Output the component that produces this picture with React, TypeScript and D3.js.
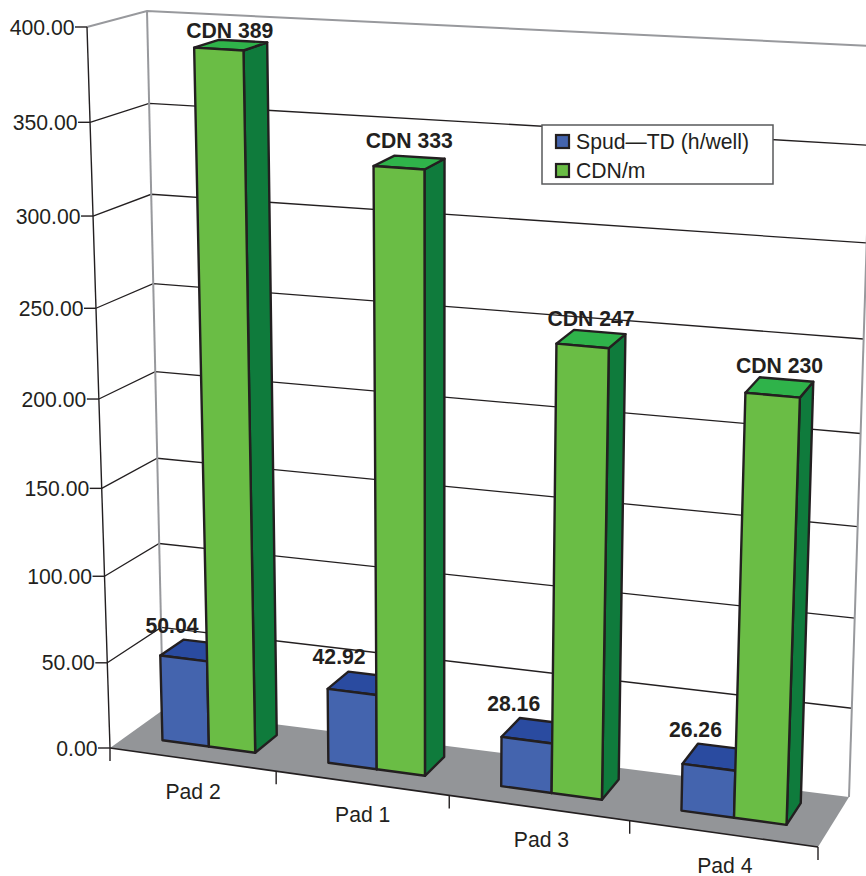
import React from "react";
import * as d3 from "d3";

// Chart data
const pads = ["Pad 2", "Pad 1", "Pad 3", "Pad 4"];
const spudHours = [50.04, 42.92, 28.16, 26.26];
const cdnPerMetre = [389, 333, 247, 230];
const seriesNames = ["Spud—TD (h/well)", "CDN/m"];
const valueTicks = [0, 50, 100, 150, 200, 250, 300, 350, 400];

type Pt = [number, number];

// Screen corners of the 3D chart box: f/b = front/back, l/r = left/right, 0/1 = floor/ceiling.
const box = {
  fl0: [110, 748] as Pt,
  fr0: [818, 847] as Pt,
  bl0: [163, 710] as Pt,
  br0: [849, 797] as Pt,
  fl1: [87, 27] as Pt,
  fr1: [846, 72] as Pt,
  bl1: [147, 11] as Pt,
  br1: [873, 46] as Pt,
};
const perspectiveAcross = -0.08;
const perspectiveUp = -0.062;

const warp = (t: number, k: number) => (t * (1 + k)) / (1 + k * t);
const mix = (a: Pt, b: Pt, t: number): Pt => [a[0] + (b[0] - a[0]) * t, a[1] + (b[1] - a[1]) * t];

const valueScale = d3.scaleLinear().domain([0, 400]).range([0, 1]);
const padScale = d3.scaleBand<string>().domain(pads).range([0, 1]);

// Projects (across, depth, value fraction) into the drawing.
function project(u: number, v: number, w: number): Pt {
  const a = warp(u, perspectiveAcross);
  const h = warp(w, perspectiveUp);
  const floor = mix(mix(box.fl0, box.fr0, a), mix(box.bl0, box.br0, a), v);
  const ceil = mix(mix(box.fl1, box.fr1, a), mix(box.bl1, box.br1, a), v);
  return mix(floor, ceil, h);
}

const path = d3.line<Pt>().curve(d3.curveLinearClosed);
const seg = d3.line<Pt>();

const INK = "#231f20";
const WALL = "#98999d";
const FLOOR = "#939598";
const FONT = "'Liberation Sans', Arial, sans-serif";
const FS = 21.2;

// Bar footprint inside one pad's band.
const barEdges = [0.216, 0.5, 0.78];
const depthFront = 0.33;
const depthBack = 0.77;

const faces = [
  { front: "#4464ae", top: "#2a4ba0", side: "#2a4ba0" },
  { front: "#6abd45", top: "#2fb34a", side: "#0f7b3c" },
];

// Hand offsets of the value labels from the centre of each bar top.
const spudLabelShift: Pt[] = [[-23, -17], [-23, -19], [-22, -20], [-21, -20]];
const costLabelShift: Pt[] = [[-1, -7], [0, -14], [0, -13], [0, -14]];
const padLabelShift = [0, 0, 2, 1];

function Bar({ u0, u1, value, colors }: { u0: number; u1: number; value: number; colors: typeof faces[0] }) {
  const w = valueScale(value);
  const stroke = { stroke: INK, strokeWidth: 2.4, strokeLinejoin: "round" as const };
  const [v0, v1] = [depthFront, depthBack];
  return (
    <g>
      <path d={path([project(u1, v0, 0), project(u1, v1, 0), project(u1, v1, w), project(u1, v0, w)])!} fill={colors.side} {...stroke} />
      <path d={path([project(u0, v0, w), project(u1, v0, w), project(u1, v1, w), project(u0, v1, w)])!} fill={colors.top} {...stroke} />
      <path d={path([project(u0, v0, 0), project(u1, v0, 0), project(u1, v0, w), project(u0, v0, w)])!} fill={colors.front} {...stroke} />
    </g>
  );
}

export default function App() {
  const bw = padScale.bandwidth();
  const uOf = (pad: string, f: number) => padScale(pad)! + f * bw;
  const uTicks = d3.range(pads.length + 1).map((i) => i * bw);

  return (
    <svg
      width={866}
      height={876}
      viewBox="0 0 866 876"
      style={{ position: "absolute", left: 0, top: 0, background: "#fff" }}
      fontFamily={FONT}
      fontSize={FS}
      fill={INK}
    >
      {/* floor */}
      <path d={path([box.fl0, box.fr0, box.br0, box.bl0])!} fill={FLOOR} />

      {/* gridlines along the side and back walls */}
      {valueTicks.slice(1, -1).map((t) => {
        const w = valueScale(t);
        return (
          <path key={t} d={seg([project(0, 0, w), project(0, 1, w), project(1, 1, w)])!} fill="none" stroke={INK} strokeWidth={1.3} />
        );
      })}

      {/* wall outline */}
      <path d={seg([box.fl1, box.bl1, box.br1])!} fill="none" stroke={WALL} strokeWidth={2} />
      <path d={seg([box.bl1, box.bl0])!} fill="none" stroke={WALL} strokeWidth={2} />
      <path d={seg([box.br1, box.br0])!} fill="none" stroke={WALL} strokeWidth={2} />

      {/* value axis */}
      <path d={seg([box.fl1, box.fl0])!} fill="none" stroke={INK} strokeWidth={1.4} />
      {valueTicks.map((t) => {
        const [x, y] = project(0, 0, valueScale(t));
        return (
          <g key={t}>
            <line x1={x - 12} x2={x} y1={y} y2={y} stroke={INK} strokeWidth={1.4} />
            <text x={x - 12.5} y={y + 7.5} textAnchor="end">{d3.format(".2f")(t)}</text>
          </g>
        );
      })}

      {/* category axis */}
      <path d={seg([box.fl0, box.fr0])!} fill="none" stroke={INK} strokeWidth={1.6} />
      {uTicks.map((u) => {
        const [x, y] = project(u, 0, 0);
        return <line key={u} x1={x} x2={x} y1={y} y2={y + 13} stroke={INK} strokeWidth={1.4} />;
      })}
      {pads.map((pad, i) => {
        const a = project(uTicks[i], 0, 0);
        const b = project(uTicks[i + 1], 0, 0);
        return (
          <text key={pad} x={(a[0] + b[0]) / 2 + padLabelShift[i]} y={(a[1] + b[1]) / 2 + 39} textAnchor="middle">{pad}</text>
        );
      })}

      {/* paired bars */}
      {pads.map((pad, i) => (
        <g key={pad}>
          <Bar u0={uOf(pad, barEdges[0])} u1={uOf(pad, barEdges[1])} value={spudHours[i]} colors={faces[0]} />
          <Bar u0={uOf(pad, barEdges[1])} u1={uOf(pad, barEdges[2])} value={cdnPerMetre[i]} colors={faces[1]} />
        </g>
      ))}

      {/* value labels */}
      <g fontWeight="bold" textAnchor="middle">
        {pads.map((pad, i) => {
          const mid = (depthFront + depthBack) / 2;
          const blue = project(uOf(pad, (barEdges[0] + barEdges[1]) / 2), mid, valueScale(spudHours[i]));
          const green = project(uOf(pad, (barEdges[1] + barEdges[2]) / 2), mid, valueScale(cdnPerMetre[i]));
          return (
            <g key={pad}>
              <text x={blue[0] + spudLabelShift[i][0]} y={blue[1] + spudLabelShift[i][1]}>{spudHours[i].toFixed(2)}</text>
              <text x={green[0] + costLabelShift[i][0]} y={green[1] + costLabelShift[i][1]}>{`CDN ${cdnPerMetre[i]}`}</text>
            </g>
          );
        })}
      </g>

      {/* legend */}
      <g transform="translate(542,125)">
        <rect width={231} height={59} fill="#fff" stroke="#58595b" strokeWidth={1.5} />
        {seriesNames.map((name, i) => (
          <g key={name} transform={`translate(14,${10 + i * 29})`}>
            <rect width={13} height={13} fill={faces[i].front} stroke={INK} strokeWidth={2.2} />
            <text x={20} y={14}>{name}</text>
          </g>
        ))}
      </g>
    </svg>
  );
}
